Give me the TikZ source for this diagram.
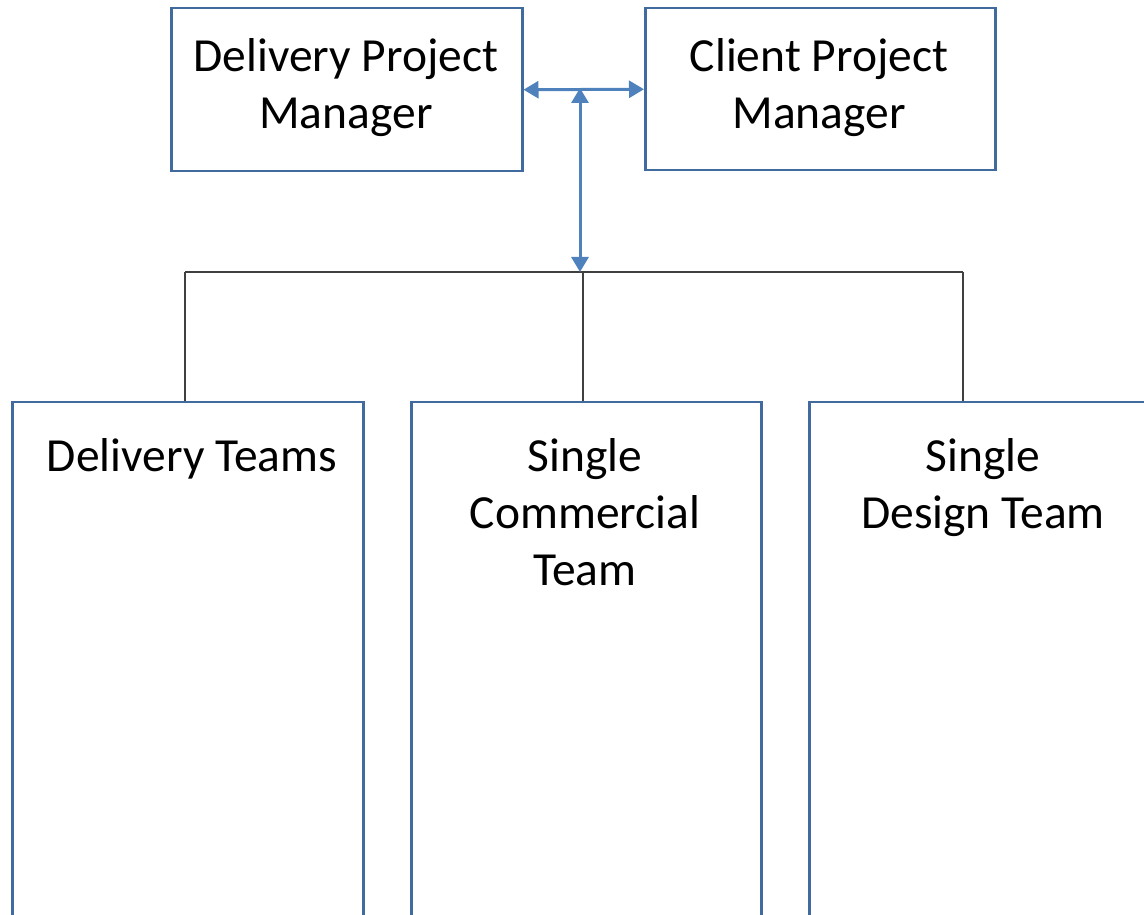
\documentclass[tikz,border=0pt]{standalone}
\usepackage{fontspec}
\setmainfont{Carlito}
\usetikzlibrary{arrows.meta}
\definecolor{boxblue}{RGB}{65,106,158}
\definecolor{arrblue}{RGB}{79,129,189}
\definecolor{connc}{RGB}{64,64,64}
\begin{document}
\begin{tikzpicture}[x=1pt,y=1pt,
  box/.style={draw=boxblue, line width=2.5pt, inner sep=0pt, anchor=north west},
  lbl/.style={anchor=base, align=center, inner sep=0pt, font=\fontsize{47.5}{57}\selectfont},
  arr/.style={draw=arrblue, line width=3pt, {Triangle[length=15pt,width=17pt]}-{Triangle[length=15pt,width=17pt]}},
  conn/.style={draw=connc, line width=1.5pt}]
\useasboundingbox (0,0) rectangle (1144,915);
\clip (0,0) rectangle (1144,915);
\node[box, minimum width=351, minimum height=163] (dpm) at (170,908) {};
\node[box, minimum width=350, minimum height=162] (cpm) at (644,908) {};
\node[box, minimum width=351, minimum height=560] (b1) at (11,514) {};
\node[box, minimum width=350, minimum height=560] (b2) at (410,514) {};
\node[box, minimum width=350, minimum height=560] (b3) at (808,514) {};
\node[lbl] (t0) at (346,786) {Delivery Project\\Manager};
\node[lbl] (tc) at (819,786) {Client Project\\Manager};
\node[lbl] (t1) at (192,443) {Delivery Teams};
\node[lbl] (t2) at (585,329) {Single\\Commercial\\Team};
\node[lbl] (t3) at (983,386) {Single\\Design Team};
\coordinate (j) at (580,827);
\coordinate (bus) at (580,643);
\coordinate (busL) at (185,643);
\coordinate (busM) at (583,643);
\coordinate (busR) at (963,643);
\draw[conn] (busL) -- (busR);
\draw[conn] (busL) -- (busL |- b1.north);
\draw[conn] (busM) -- (busM |- b2.north);
\draw[conn] (busR) -- (busR |- b3.north);
\draw[arr] (dpm.east) -- (cpm.west);
\draw[arr] (j) -- (bus);
\end{tikzpicture}
\end{document}
